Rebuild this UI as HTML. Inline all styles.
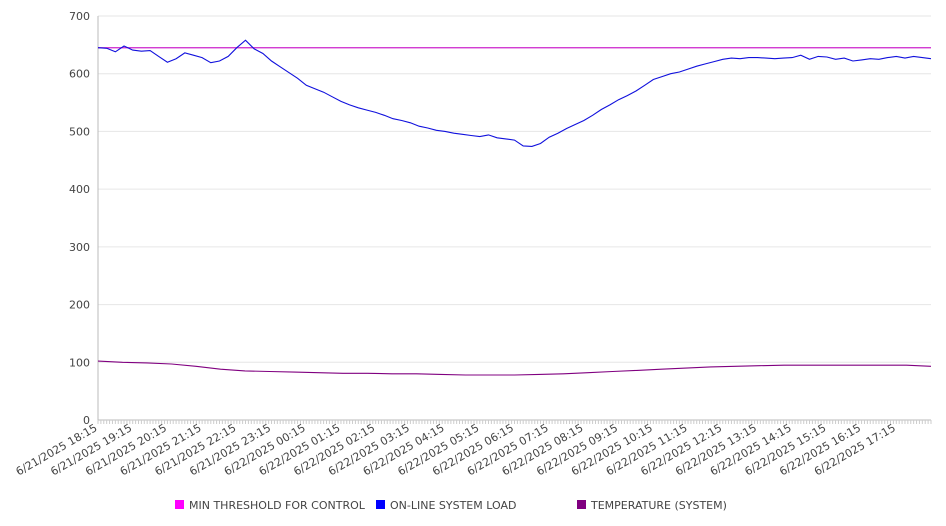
<!DOCTYPE html>
<html><head><meta charset="utf-8"><style>
html,body{margin:0;padding:0;background:#fff;}
svg{display:block;font-family:"DejaVu Sans","Liberation Sans",sans-serif;}
</style></head><body>
<svg id="chart" width="946" height="526"></svg>
<script>
const startLabel = ["6/21/2025 18:15","6/21/2025 19:15","6/21/2025 20:15","6/21/2025 21:15","6/21/2025 22:15","6/21/2025 23:15","6/22/2025 00:15","6/22/2025 01:15","6/22/2025 02:15","6/22/2025 03:15","6/22/2025 04:15","6/22/2025 05:15","6/22/2025 06:15","6/22/2025 07:15","6/22/2025 08:15","6/22/2025 09:15","6/22/2025 10:15","6/22/2025 11:15","6/22/2025 12:15","6/22/2025 13:15","6/22/2025 14:15","6/22/2025 15:15","6/22/2025 16:15","6/22/2025 17:15"];
const yTicks = [0,100,200,300,400,500,600,700];
// on-line load, every 15 minutes from 18:15
const loadValues = [645,644,638,648,641,639,640,630,620,626,636,632,628,619,622,630,645,658,643,635,622,612,602,592,580,574,568,560,552,546,541,537,533,528,522,519,515,509,506,502,500,497,495,493,491,494,489,487,485,475,474,479,490,497,505,512,519,528,538,546,555,562,570,580,590,595,600,603,608,613,617,621,625,627,626,628,628,627,626,627,628,632,625,630,629,625,627,622,624,626,625,628,630,627,630,628,626];
// temperature, hourly from 18:15
const tempValues = [102,100,99,97,93,88,85,84,83,82,81,81,80,80,79,78,78,78,79,80,82,84,86,88,90,92,93,94,95,95,95,95,95,95,93];
const thresholdValue = 645;
const hoursSpan = 24;

const X0=98, X1=931, Y0=420, Y1=16;
const xScale = h => X0 + (X1-X0)*h/hoursSpan;
const yScale = v => Y0 - (Y0-Y1)*v/700;
const svg = document.getElementById('chart');
const NS='http://www.w3.org/2000/svg';
function mk(tag, attrs, parent){const e=document.createElementNS(NS,tag);for(const k in attrs)e.setAttribute(k,attrs[k]);(parent||svg).appendChild(e);return e;}

yTicks.forEach(v=>{
  const g=mk('line',{x1:X0,x2:X1,y1:yScale(v),y2:yScale(v),stroke:v===0?'#bbb':'#e6e6e6','stroke-width':1});
  
  
  const t=mk('text',{x:X0-8,y:yScale(v)+4,'text-anchor':'end','font-size':11,fill:'#444'});
  t.textContent=v;
  
  
});
const ax=mk('line',{x1:X0,x2:X0,y1:Y1,y2:Y0,stroke:'#bbb'});


for(let i=0;i<=hoursSpan*12;i++){
  const x=xScale(i/12);
  const tk=mk('line',{x1:x,x2:x,y1:Y0,y2:Y0+4,stroke:'#ccc'});
  
  
}
startLabel.forEach((s,i)=>{
  const x=xScale(i), y=Y0+10;
  const t=mk('text',{x:x,y:y,'text-anchor':'end','font-size':11,fill:'#444',transform:`rotate(-30 ${x} ${y})`});
  t.textContent=s;
  
  
});
const th=mk('line',{x1:X0,x2:X1,y1:yScale(thresholdValue),y2:yScale(thresholdValue),stroke:'#cc22cc','stroke-width':1.2});


function poly(vals,stepH,color,name){
  const pts=vals.map((v,i)=>xScale(i*stepH).toFixed(1)+','+yScale(v).toFixed(1)).join(' ');
  const p=mk('polyline',{points:pts,fill:'none',stroke:color,'stroke-width':1.1});
  
  
}
poly(tempValues,hoursSpan/(tempValues.length-1),'#800080','temperature-line');
poly(loadValues,hoursSpan/(loadValues.length-1),'#1010dd','system-load-line');

const legend=[['MIN THRESHOLD FOR CONTROL','#ff00ff',175],['ON-LINE SYSTEM LOAD','#0000ff',376],['TEMPERATURE (SYSTEM)','#800080',577]];
legend.forEach(([l,c,x])=>{
  const r=mk('rect',{x:x,y:500,width:9,height:9,fill:c});
  
  
  const t=mk('text',{x:x+14,y:509,'font-size':11,fill:'#444'});
  t.textContent=l;
  
  
});
</script>
</body></html>
